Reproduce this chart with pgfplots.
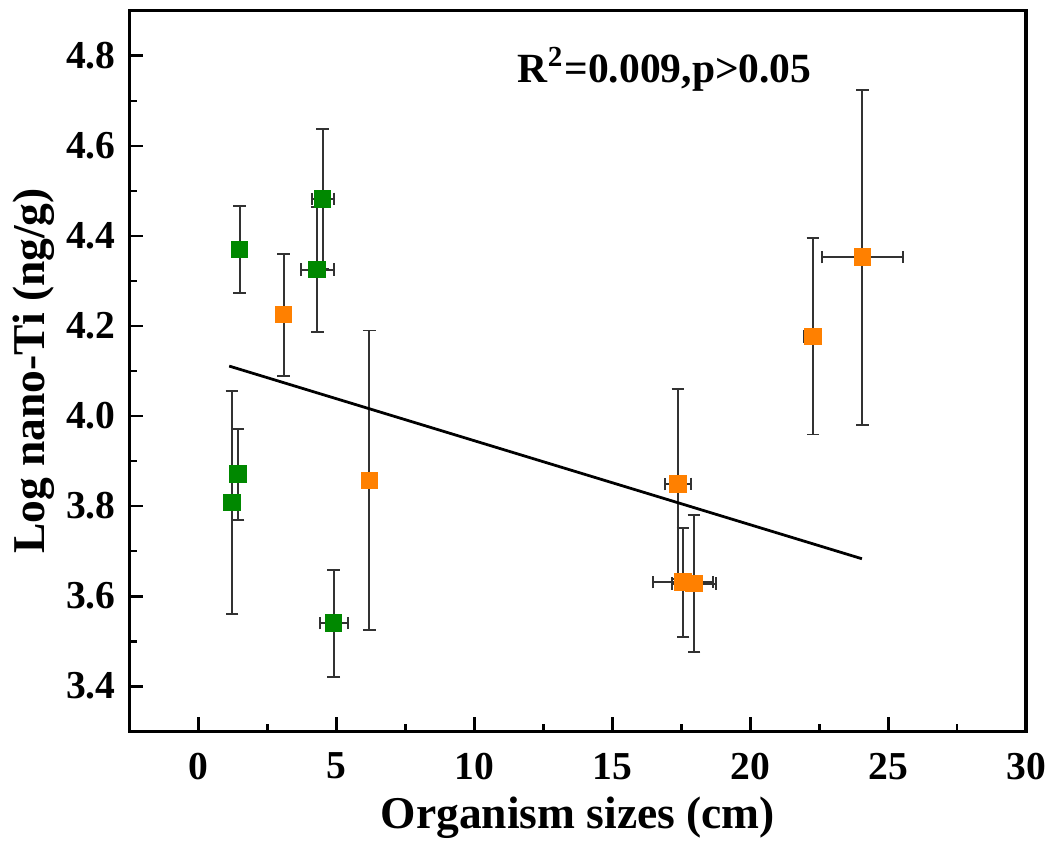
\documentclass[border=0pt]{standalone}
\usepackage{fontspec}
\setmainfont{Liberation Serif}
\usepackage{pgfplots}
\pgfplotsset{compat=1.18}
\definecolor{ggreen}{RGB}{0,136,0}
\definecolor{gorange}{RGB}{255,128,0}
\definecolor{ebar}{RGB}{50,50,50}

% x y ex ey
\pgfplotstableread{
x y ex ey
1.49 4.370 0.25 0.097
4.50 4.482 0.40 0.155
4.30 4.325 0.60 0.139
1.43 3.871 0.30 0.101
1.21 3.808 0.00 0.248
4.90 3.540 0.50 0.119
}\greendata
\pgfplotstableread{
x y ex ey
3.08 4.225 0.25 0.135
6.19 3.857 0.00 0.333
17.38 3.849 0.48 0.211
17.56 3.631 1.10 0.121
17.96 3.628 0.80 0.153
22.27 4.177 0.31 0.218
24.07 4.353 1.48 0.372
}\orangedata

\begin{document}
\begin{tikzpicture}
\begin{axis}[
  scale only axis,
  width=226.5pt, height=182pt,
  xmin=-2.5, xmax=30, ymin=3.3, ymax=4.9,
  xtick={0,5,...,30}, minor x tick num=1,
  ytick={3.4,3.6,3.8,4.0,4.2,4.4,4.6,4.8}, minor y tick num=1,
  xtick pos=bottom, ytick pos=left,
  tick align=inside,
  major tick length=3.5pt, minor tick length=1.8pt,
  axis line style={line width=0.8pt},
  every tick/.style={black, line width=0.7pt},
  tick label style={font=\fontsize{10}{12}\selectfont\bfseries},
  /pgf/number format/assume math mode=true,
  xticklabel style={yshift=-2pt},
  yticklabel style={/pgf/number format/.cd, fixed, fixed zerofill, precision=1},
  xlabel={Organism sizes (cm)},
  ylabel={Log nano-Ti (ng/g)},
  label style={font=\fontsize{11.5}{13}\selectfont\bfseries},
  xlabel style={yshift=2.5pt},
  ylabel style={yshift=-4pt},
  clip=false,
]
\addplot[only marks, mark=square*, mark size=2pt,
  mark options={draw=ggreen, fill=ggreen},
  error bars/.cd, x dir=both, y dir=both, x explicit, y explicit,
  error bar style={ebar, line width=0.5pt},
  error mark options={rotate=90, ebar, mark size=1.6pt, line width=0.5pt}]
  table[x=x, y=y, x error=ex, y error=ey] {\greendata};
\addplot[only marks, mark=square*, mark size=2pt,
  mark options={draw=gorange, fill=gorange},
  error bars/.cd, x dir=both, y dir=both, x explicit, y explicit,
  error bar style={ebar, line width=0.5pt},
  error mark options={rotate=90, ebar, mark size=1.6pt, line width=0.5pt}]
  table[x=x, y=y, x error=ex, y error=ey] {\orangedata};
\addplot[black, line width=0.7pt, no marks] coordinates {(1.11,4.111) (24.05,3.683)};
\node[font=\fontsize{10.5}{12}\selectfont\bfseries] at (axis cs:16.9,4.77) {R\textsuperscript{2}=0.009,p>0.05};
\end{axis}
\path (current axis.north) -- ([yshift=2.75pt]current axis.north);
\end{tikzpicture}
\end{document}
